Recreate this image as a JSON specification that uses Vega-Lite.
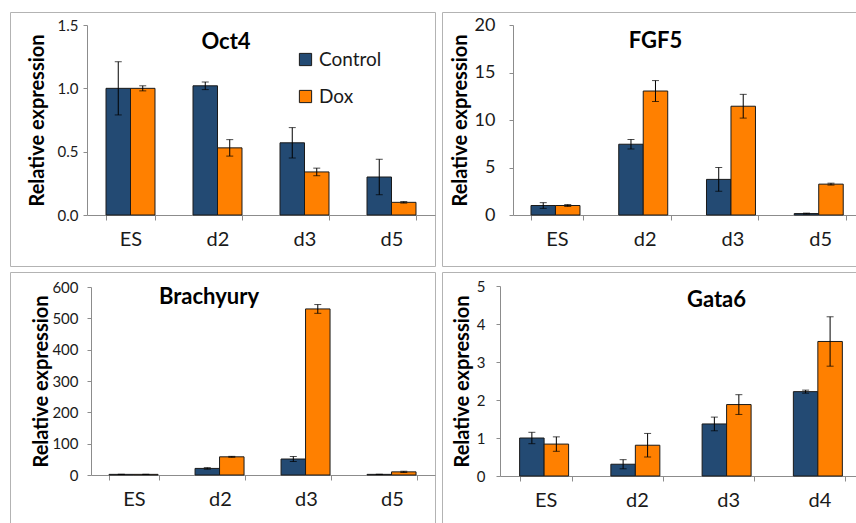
{
  "$schema": "https://vega.github.io/schema/vega-lite/v6.json",
  "padding": {"left": 9, "top": 11, "right": 0, "bottom": 0},
  "autosize": {"type": "pad"},
  "background": "white",
  "config": {
    "font": "Lato",
    "view": {"stroke": "#b3b3b3", "strokeWidth": 1},
    "axis": {"grid": false, "domainColor": "#8c8c8c", "tickColor": "#8c8c8c", "labelColor": "#1a1a1a", "titleColor": "#000000"},
    "title": {"fontSize": 22, "fontWeight": "bold", "color": "#000000"}
  },
  "data": {"values": [
    {"gene": "Oct4", "day": "ES", "cond": "Control", "value": 1.0, "err": 0.21},
    {"gene": "Oct4", "day": "ES", "cond": "Dox", "value": 1.0, "err": 0.02},
    {"gene": "Oct4", "day": "d2", "cond": "Control", "value": 1.02, "err": 0.03},
    {"gene": "Oct4", "day": "d2", "cond": "Dox", "value": 0.53, "err": 0.065},
    {"gene": "Oct4", "day": "d3", "cond": "Control", "value": 0.57, "err": 0.12},
    {"gene": "Oct4", "day": "d3", "cond": "Dox", "value": 0.34, "err": 0.03},
    {"gene": "Oct4", "day": "d5", "cond": "Control", "value": 0.30, "err": 0.14},
    {"gene": "Oct4", "day": "d5", "cond": "Dox", "value": 0.10, "err": 0.006},
    {"gene": "FGF5", "day": "ES", "cond": "Control", "value": 1.0, "err": 0.3},
    {"gene": "FGF5", "day": "ES", "cond": "Dox", "value": 1.0, "err": 0.1},
    {"gene": "FGF5", "day": "d2", "cond": "Control", "value": 7.45, "err": 0.5},
    {"gene": "FGF5", "day": "d2", "cond": "Dox", "value": 13.05, "err": 1.1},
    {"gene": "FGF5", "day": "d3", "cond": "Control", "value": 3.75, "err": 1.25},
    {"gene": "FGF5", "day": "d3", "cond": "Dox", "value": 11.45, "err": 1.25},
    {"gene": "FGF5", "day": "d5", "cond": "Control", "value": 0.15, "err": 0.05},
    {"gene": "FGF5", "day": "d5", "cond": "Dox", "value": 3.25, "err": 0.1},
    {"gene": "Brachyury", "day": "ES", "cond": "Control", "value": 2, "err": 0.5},
    {"gene": "Brachyury", "day": "ES", "cond": "Dox", "value": 2, "err": 0.3},
    {"gene": "Brachyury", "day": "d2", "cond": "Control", "value": 21, "err": 2.5},
    {"gene": "Brachyury", "day": "d2", "cond": "Dox", "value": 58, "err": 1.5},
    {"gene": "Brachyury", "day": "d3", "cond": "Control", "value": 51, "err": 8},
    {"gene": "Brachyury", "day": "d3", "cond": "Dox", "value": 530, "err": 14},
    {"gene": "Brachyury", "day": "d5", "cond": "Control", "value": 2, "err": 0.5},
    {"gene": "Brachyury", "day": "d5", "cond": "Dox", "value": 10, "err": 2},
    {"gene": "Gata6", "day": "ES", "cond": "Control", "value": 1.0, "err": 0.15},
    {"gene": "Gata6", "day": "ES", "cond": "Dox", "value": 0.84, "err": 0.19},
    {"gene": "Gata6", "day": "d2", "cond": "Control", "value": 0.31, "err": 0.12},
    {"gene": "Gata6", "day": "d2", "cond": "Dox", "value": 0.81, "err": 0.31},
    {"gene": "Gata6", "day": "d3", "cond": "Control", "value": 1.37, "err": 0.18},
    {"gene": "Gata6", "day": "d3", "cond": "Dox", "value": 1.88, "err": 0.26},
    {"gene": "Gata6", "day": "d4", "cond": "Control", "value": 2.22, "err": 0.04},
    {"gene": "Gata6", "day": "d4", "cond": "Dox", "value": 3.54, "err": 0.65}
  ]},
  "columns": 2,
  "spacing": {"row": 6, "column": 7},
  "bounds": "flush",
  "concat": [
    {
      "width": 425, "height": 254,
      "title": {"text": "Oct4", "anchor": "middle", "frame": "group", "offset": -37, "baseline": "alphabetic", "dx": 3.5, "dy": 22},
      "transform": [{"filter": "datum.gene === 'Oct4'"}],
      "encoding": {
        "x": {"field": "day", "type": "nominal", "sort": ["ES", "d2", "d3", "d5"],
          "scale": {"range": [77, 425], "paddingInner": 0.437, "paddingOuter": 0.2185},
          "axis": {"title": null, "tickBand": "extent", "offset": -51, "labelFontSize": 20, "labelPadding": 9, "tickSize": 5, "labelAngle": 0}},
        "xOffset": {"field": "cond", "type": "nominal", "sort": ["Control", "Dox"], "scale": {"paddingInner": 0, "paddingOuter": 0}},
        "y": {"field": "value", "type": "quantitative",
          "scale": {"domain": [0, 1.5], "range": [203, 13]},
          "axis": {"title": "Relative expression", "offset": -77, "values": [0, 0.5, 1, 1.5], "format": ".1f", "labelFontSize": 15, "labelPadding": 5, "tickSize": 4, "titleFontSize": 20, "titleFontWeight": "bold", "titleX": -50, "titleBaseline": "middle"}}
      },
      "layer": [
        {"mark": {"type": "bar", "stroke": "#1a1a1a", "strokeWidth": 1},
         "encoding": {"color": {"field": "cond", "type": "nominal",
           "scale": {"domain": ["Control", "Dox"], "range": ["#234a73", "#ff8000"]},
           "legend": {"title": null, "orient": "none", "legendX": 286, "legendY": 38, "symbolType": "square", "symbolSize": 150, "symbolStrokeColor": "#1a1a1a", "symbolStrokeWidth": 1, "labelFontSize": 19, "labelColor": "#1a1a1a", "rowPadding": 17, "labelOffset": 4}}}},
        {"mark": {"type": "errorbar", "ticks": {"size": 7, "color": "black"}, "rule": {"color": "black"}},
         "encoding": {"yError": {"field": "err"}}}
      ]
    },
    {
      "width": 422, "height": 254,
      "title": {"text": "FGF5", "anchor": "middle", "frame": "group", "offset": -37, "baseline": "alphabetic", "dx": 2.5, "dy": 21},
      "transform": [{"filter": "datum.gene === 'FGF5'"}],
      "encoding": {
        "x": {"field": "day", "type": "nominal", "sort": ["ES", "d2", "d3", "d5"],
          "scale": {"range": [71, 422], "paddingInner": 0.41, "paddingOuter": 0.205},
          "axis": {"title": null, "tickBand": "extent", "offset": -51, "labelFontSize": 20, "labelPadding": 9, "tickSize": 5, "labelAngle": 0}},
        "xOffset": {"field": "cond", "type": "nominal", "sort": ["Control", "Dox"], "scale": {"paddingInner": 0, "paddingOuter": 0}},
        "y": {"field": "value", "type": "quantitative",
          "scale": {"domain": [0, 20], "range": [203, 13]},
          "axis": {"title": "Relative expression", "offset": -71, "values": [0, 5, 10, 15, 20], "labelFontSize": 18, "labelPadding": 14, "tickSize": 4, "titleFontSize": 20, "titleFontWeight": "bold", "titleX": -53, "titleBaseline": "middle"}}
      },
      "layer": [
        {"mark": {"type": "bar", "stroke": "#1a1a1a", "strokeWidth": 1},
         "encoding": {"color": {"field": "cond", "type": "nominal"}}},
        {"mark": {"type": "errorbar", "ticks": {"size": 7, "color": "black"}, "rule": {"color": "black"}},
         "encoding": {"yError": {"field": "err"}}}
      ]
    },
    {
      "width": 425, "height": 254,
      "title": {"text": "Brachyury", "anchor": "middle", "frame": "group", "offset": -33, "baseline": "alphabetic", "dx": -13.5, "dy": 21},
      "transform": [{"filter": "datum.gene === 'Brachyury'"}],
      "encoding": {
        "x": {"field": "day", "type": "nominal", "sort": ["ES", "d2", "d3", "d5"],
          "scale": {"range": [81, 425], "paddingInner": 0.42, "paddingOuter": 0.21},
          "axis": {"title": null, "tickBand": "extent", "offset": -51, "labelFontSize": 20, "labelPadding": 9, "tickSize": 5, "labelAngle": 0}},
        "xOffset": {"field": "cond", "type": "nominal", "sort": ["Control", "Dox"], "scale": {"paddingInner": 0, "paddingOuter": 0}},
        "y": {"field": "value", "type": "quantitative",
          "scale": {"domain": [0, 600], "range": [203, 15]},
          "axis": {"title": "Relative expression", "offset": -81, "values": [0, 100, 200, 300, 400, 500, 600], "labelFontSize": 15, "labelPadding": 9, "tickSize": 4, "titleFontSize": 20, "titleFontWeight": "bold", "titleX": -50, "titleBaseline": "middle"}}
      },
      "layer": [
        {"mark": {"type": "bar", "stroke": "#1a1a1a", "strokeWidth": 1},
         "encoding": {"color": {"field": "cond", "type": "nominal"}}},
        {"mark": {"type": "errorbar", "ticks": {"size": 7, "color": "black"}, "rule": {"color": "black"}},
         "encoding": {"yError": {"field": "err"}}}
      ]
    },
    {
      "width": 423, "height": 254,
      "title": {"text": "Gata6", "anchor": "middle", "frame": "group", "offset": -36, "baseline": "alphabetic", "dx": 63, "dy": 21},
      "transform": [{"filter": "datum.gene === 'Gata6'"}],
      "encoding": {
        "x": {"field": "day", "type": "nominal", "sort": ["ES", "d2", "d3", "d4"],
          "scale": {"range": [58, 423], "paddingInner": 0.43, "paddingOuter": 0.215},
          "axis": {"title": null, "tickBand": "extent", "offset": -50, "labelFontSize": 20, "labelPadding": 9, "tickSize": 5, "labelAngle": 0}},
        "xOffset": {"field": "cond", "type": "nominal", "sort": ["Control", "Dox"], "scale": {"paddingInner": 0, "paddingOuter": 0}},
        "y": {"field": "value", "type": "quantitative",
          "scale": {"domain": [0, 5], "range": [204, 14]},
          "axis": {"title": "Relative expression", "offset": -58, "values": [0, 1, 2, 3, 4, 5], "labelFontSize": 15, "labelPadding": 11, "tickSize": 4, "titleFontSize": 20, "titleFontWeight": "bold", "titleX": -38, "titleBaseline": "middle"}}
      },
      "layer": [
        {"mark": {"type": "bar", "stroke": "#1a1a1a", "strokeWidth": 1},
         "encoding": {"color": {"field": "cond", "type": "nominal"}}},
        {"mark": {"type": "errorbar", "ticks": {"size": 7, "color": "black"}, "rule": {"color": "black"}},
         "encoding": {"yError": {"field": "err"}}}
      ]
    }
  ]
}
